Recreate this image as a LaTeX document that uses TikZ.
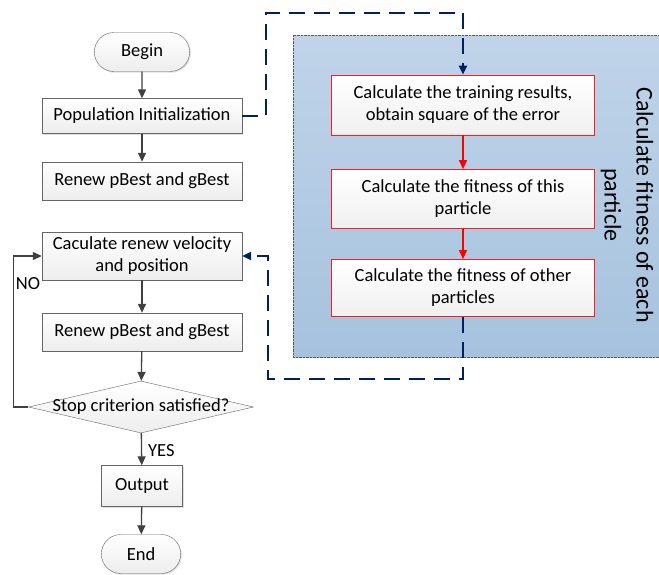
\documentclass[tikz,border=0pt]{standalone}
\usepackage{fontspec}
\setmainfont{Carlito}
\usetikzlibrary{arrows.meta,shapes.geometric,shapes.misc,shadows}
\definecolor{navy}{RGB}{0,32,96}
\definecolor{arrowgray}{RGB}{64,64,64}
\definecolor{panetop}{RGB}{192,212,233}
\definecolor{panebottom}{RGB}{166,194,222}

\begin{document}
\begin{tikzpicture}[
    x=1pt, y=-1pt,
    font=\fontsize{18.5}{22}\selectfont,
    >={Triangle[length=9pt,width=8pt]},
    block/.style={rectangle, draw=gray!80!black, top color=white, bottom color=gray!14, text centered, align=center, minimum width=200pt, minimum height=38pt, inner sep=2pt, drop shadow={shadow xshift=1.2pt, shadow yshift=-1.2pt, opacity=0.25}},
    terminal/.style={rounded rectangle, draw=gray!80!black, top color=white, bottom color=gray!14, minimum height=39pt, drop shadow={shadow xshift=1.2pt, shadow yshift=-1.2pt, opacity=0.25}},
    decision/.style={diamond, draw=gray!80!black, top color=white, bottom color=gray!14, inner sep=0pt, minimum width=225pt, minimum height=52pt},
    redblock/.style={rectangle, draw=red!90, line width=0.8pt, top color=white, bottom color=gray!12, align=center, minimum width=263pt, minimum height=59pt, inner sep=2pt},
    flow/.style={->, draw=arrowgray, line width=1.3pt},
    redflow/.style={->, draw=red, line width=1.3pt},
    dashflow/.style={->, draw=navy, line width=2.2pt, dash pattern=on 16pt off 9pt}
]
    \useasboundingbox (0,0) rectangle (659,574);

    % panel on the right
    \path[top color=panetop, bottom color=panebottom, draw=gray!70!black, densely dotted] (293,35) rectangle (659,357);
    \node[rotate=-90, align=center, font=\fontsize{24}{32}\selectfont] (title) at (627,205) {Calculate fitness of each\\particle};

    % main flow
    \node[terminal, minimum width=102pt] (begin) at (142,52) {Begin};
    \node[block, minimum height=35pt] (init) at (142,116) {Population Initialization};
    \node[block] (renew1) at (142,181) {Renew pBest and gBest};
    \node[block, minimum height=48pt] (velo) at (142,256) {Caculate renew velocity\\and position};
    \node[block] (renew2) at (142,332) {Renew pBest and gBest};
    \node[decision] (stop) at (141,407) {\makebox[0pt]{Stop criterion satisfied?}};
    \node[block, minimum width=81pt, minimum height=41pt] (output) at (142,486) {Output};
    \node[terminal, minimum width=86pt] (end) at (141,554) {End};

    % fitness blocks
    \node[redblock, minimum height=60pt] (calc1) at (463,105) {Calculate the training results,\\obtain square of the error};
    \node[redblock] (calc2) at (463,199) {Calculate the fitness of this\\particle};
    \node[redblock, minimum height=57pt] (calc3) at (463,288) {Calculate the fitness of other\\particles};

    \draw[flow] (begin) -- (init);
    \draw[flow] (init) -- (renew1);
    \draw[flow] (velo) -- (renew2);
    \draw[flow] (renew2) -- (stop);
    \draw[flow] (stop) -- node[pos=0.55, right, inner sep=6pt] {YES} (output);
    \draw[flow] (output) -- (end);
    \draw[flow] (stop.west) -- ++(-15,0) |- node[pos=0.41, right, inner sep=2pt] {NO} (velo.west);

    \draw[redflow] (calc1) -- (calc2);
    \draw[redflow] (calc2) -- (calc3);

    \draw[dashflow] (init.east) -- ++(24,0) |- ([yshift=62pt]calc1.north) -- (calc1.north);
    \draw[dashflow] (calc3.south) -- ++(0,62) -| ([xshift=26pt]velo.east) -- (velo.east);
\end{tikzpicture}
\end{document}
